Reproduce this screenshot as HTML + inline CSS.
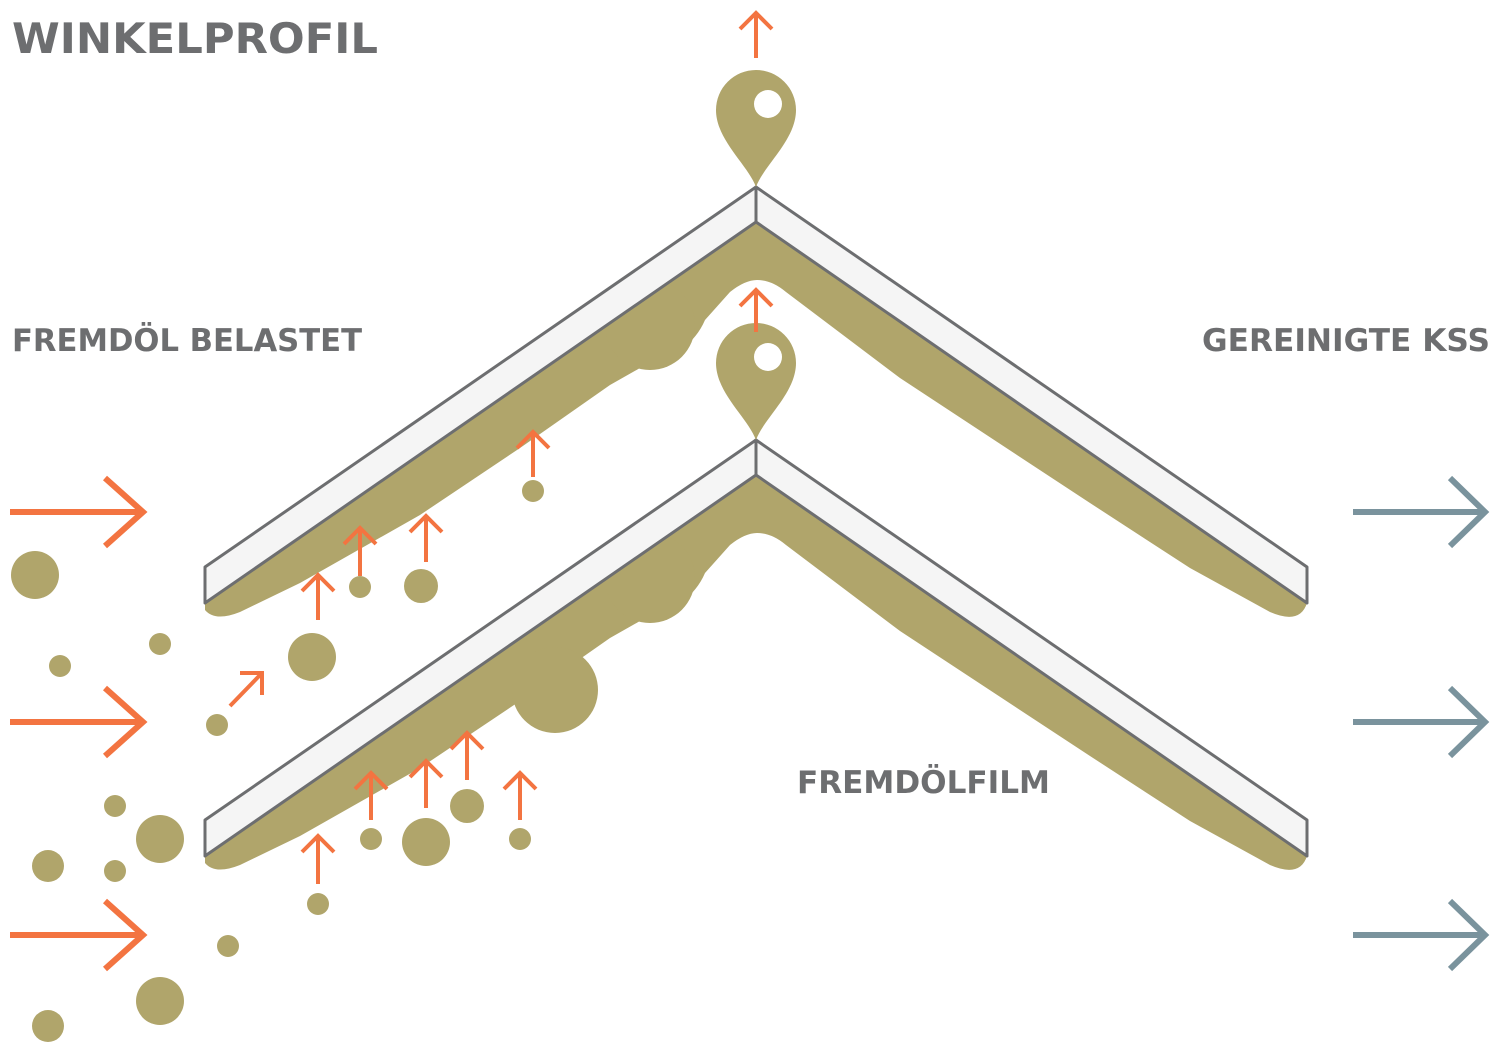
<!DOCTYPE html>
<html><head><meta charset="utf-8"><style>
html,body{margin:0;padding:0;background:#fff;}
svg{display:block}
text{font-family:"DejaVu Sans","Liberation Sans",sans-serif;font-weight:bold;fill:#6d6e70}
</style></head><body>
<svg width="1501" height="1054" viewBox="0 0 1501 1054" xmlns="http://www.w3.org/2000/svg">
<defs>
<g id="film" fill="#b0a56b">
  <path d="M756,222 L205,603 L205,610 Q215,622 240,612 L300,583 L420,515 L520,448 L610,385 L640,368 Q690,355 705,320 L730,292 Q745,280 757,280 Q772,280 786,292 L900,378 L1090,503 L1190,568 L1270,612 Q1300,625 1307,603 Z"/>
</g>
<g id="plate" fill="#f5f5f5" stroke="#6d6e70" stroke-width="3" stroke-linejoin="round">
  <path d="M756,187 L205,567 L205,603 L756,222 Z"/>
  <path d="M756,187 L1307,567 L1307,603 L756,222 Z"/>
</g>
<path id="pin" d="M756,187 C748,165 716,140 716,110 A40,40 0 0 1 796,110 C796,140 764,165 756,187 Z" fill="#b0a56b"/>
</defs>

<text x="12" y="53" font-size="42" textLength="366" lengthAdjust="spacingAndGlyphs">WINKELPROFIL</text>
<text x="12" y="351" font-size="31" textLength="350" lengthAdjust="spacingAndGlyphs">FREMDÖL BELASTET</text>
<text x="1202" y="351" font-size="31" textLength="288" lengthAdjust="spacingAndGlyphs">GEREINIGTE KSS</text>
<text x="797" y="793" font-size="31" textLength="253" lengthAdjust="spacingAndGlyphs">FREMDÖLFILM</text>

<use href="#film"/>
<use href="#film" transform="translate(0,253)"/>
<circle cx="650" cy="325" r="45" fill="#b0a56b"/>
<circle cx="650" cy="578" r="45" fill="#b0a56b"/>
<circle cx="555" cy="690" r="43" fill="#b0a56b"/>
<use href="#plate"/>
<use href="#plate" transform="translate(0,253)"/>
<use href="#pin"/>
<circle cx="768" cy="104" r="14" fill="#fff"/>
<use href="#pin" transform="translate(0,253)"/>
<circle cx="768" cy="357" r="14" fill="#fff"/>

<g fill="#b0a56b">
<circle cx="35" cy="575" r="24"/><circle cx="60" cy="666" r="11"/><circle cx="160" cy="644" r="11"/>
<circle cx="312" cy="657" r="24"/><circle cx="217" cy="725" r="11"/><circle cx="360" cy="587" r="11"/>
<circle cx="421" cy="586" r="17"/><circle cx="533" cy="491" r="11"/><circle cx="115" cy="806" r="11"/>
<circle cx="160" cy="839" r="24"/><circle cx="48" cy="866" r="16"/><circle cx="115" cy="871" r="11"/>
<circle cx="426" cy="842" r="24"/><circle cx="467" cy="806" r="17"/><circle cx="371" cy="839" r="11"/>
<circle cx="520" cy="839" r="11"/><circle cx="318" cy="904" r="11"/><circle cx="228" cy="946" r="11"/>
<circle cx="160" cy="1001" r="24"/><circle cx="48" cy="1026" r="16"/>
</g>

<g stroke="#f37441" stroke-width="6" fill="none">
<path d="M10,512 H143 M105,478 L143,512 L105,546"/>
<path d="M10,722 H143 M105,688 L143,722 L105,756"/>
<path d="M10,935 H143 M105,901 L143,935 L105,969"/>
</g>
<g stroke="#7a939d" stroke-width="6" fill="none">
<path d="M1353,512 H1485 M1450,478 L1485,512 L1450,546"/>
<path d="M1353,722 H1485 M1450,688 L1485,722 L1450,756"/>
<path d="M1353,935 H1485 M1450,901 L1485,935 L1450,969"/>
</g>
<g stroke="#f37441" stroke-width="4" fill="none">
<path d="M756,58 V13 M740,29 L756,13 L772,29"/>
<path d="M756,332 V290 M740,306 L756,290 L772,306"/>
<path d="M533,477 V432 M517,448 L533,432 L549,448"/>
<path d="M426,562 V516 M410,532 L426,516 L442,532"/>
<path d="M360,576 V528 M344,544 L360,528 L376,544"/>
<path d="M318,620 V575 M302,591 L318,575 L334,591"/>
<path d="M371,820 V773 M355,789 L371,773 L387,789"/>
<path d="M426,808 V761 M410,777 L426,761 L442,777"/>
<path d="M467,780 V733 M451,749 L467,733 L483,749"/>
<path d="M520,820 V773 M504,789 L520,773 L536,789"/>
<path d="M318,884 V836 M302,852 L318,836 L334,852"/>
<path d="M230,706 L262,673 M240,673 L262,673 L262,695"/>
</g>
</svg>
</body></html>
